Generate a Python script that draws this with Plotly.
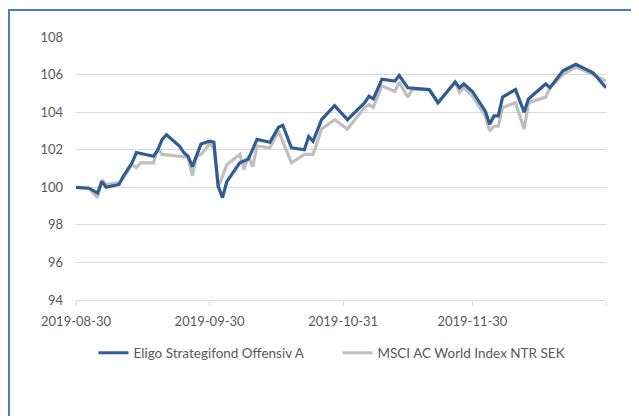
import plotly.graph_objects as go

eligo_dates = ["2019-08-30","2019-09-02","2019-09-04","2019-09-05","2019-09-06","2019-09-09","2019-09-10",
               "2019-09-12","2019-09-13","2019-09-17","2019-09-18","2019-09-19","2019-09-20","2019-09-23",
               "2019-09-24","2019-09-25","2019-09-26","2019-09-27","2019-09-28","2019-09-30","2019-10-01",
               "2019-10-02","2019-10-03","2019-10-04","2019-10-07","2019-10-09","2019-10-11","2019-10-14",
               "2019-10-16","2019-10-17","2019-10-19","2019-10-22","2019-10-23","2019-10-24","2019-10-26",
               "2019-10-29","2019-11-01","2019-11-05","2019-11-06","2019-11-07","2019-11-09","2019-11-12",
               "2019-11-13","2019-11-15","2019-11-20","2019-11-22","2019-11-26","2019-11-27","2019-11-28",
               "2019-11-30","2019-12-03","2019-12-04","2019-12-05","2019-12-06","2019-12-07","2019-12-10",
               "2019-12-12","2019-12-13","2019-12-17","2019-12-18","2019-12-21","2019-12-24","2019-12-28",
               "2019-12-31"]
eligo_values = [100.0, 99.95, 99.7, 100.3, 100.0, 100.15, 100.6,
                101.3, 101.85, 101.65, 102.0, 102.55, 102.8, 102.2,
                101.85, 101.65, 101.1, 101.65, 102.3, 102.45, 102.4,
                100.05, 99.45, 100.3, 101.3, 101.5, 102.55, 102.4,
                103.2, 103.3, 102.1, 102.0, 102.7, 102.45, 103.6,
                104.35, 103.6, 104.5, 104.85, 104.7, 105.75, 105.65,
                105.95, 105.3, 105.2, 104.5, 105.6, 105.3, 105.5,
                105.1, 104.05, 103.35, 103.8, 103.8, 104.8, 105.2,
                104.0, 104.7, 105.5, 105.3, 106.2, 106.55, 106.1,
                105.3]

msci_dates = ["2019-08-30","2019-09-02","2019-09-04","2019-09-05","2019-09-06","2019-09-09","2019-09-10",
              "2019-09-12","2019-09-13","2019-09-14","2019-09-17","2019-09-18","2019-09-19","2019-09-23",
              "2019-09-24","2019-09-25","2019-09-26","2019-09-27","2019-09-28","2019-09-30","2019-10-01",
              "2019-10-02","2019-10-03","2019-10-04","2019-10-07","2019-10-08","2019-10-09","2019-10-10",
              "2019-10-11","2019-10-14","2019-10-16","2019-10-19","2019-10-22","2019-10-24","2019-10-26",
              "2019-10-29","2019-11-01","2019-11-05","2019-11-06","2019-11-07","2019-11-09","2019-11-12",
              "2019-11-13","2019-11-15","2019-11-16","2019-11-20","2019-11-22","2019-11-26","2019-11-27",
              "2019-11-28","2019-11-30","2019-12-03","2019-12-04","2019-12-05","2019-12-06","2019-12-07",
              "2019-12-10","2019-12-12","2019-12-13","2019-12-17","2019-12-18","2019-12-21","2019-12-24",
              "2019-12-28","2019-12-31"]
msci_values = [100.0, 99.95, 99.45, 100.4, 100.15, 100.25, 100.5,
               101.2, 101.05, 101.3, 101.3, 102.1, 101.75, 101.65,
               101.6, 101.6, 100.6, 101.65, 101.75, 102.3, 102.1,
               100.0, 100.6, 101.2, 101.75, 100.95, 101.65, 101.1,
               102.2, 102.1, 103.0, 101.3, 101.75, 101.75, 103.1,
               103.6, 103.1, 104.25, 104.4, 104.25, 105.4, 105.1,
               105.6, 104.8, 105.2, 105.2, 104.5, 105.6, 105.05,
               105.3, 104.85, 103.8, 103.0, 103.25, 103.25, 104.25,
               104.5, 103.1, 104.5, 104.8, 105.3, 106.0, 106.4,
               106.0, 105.65]

x_tickvals = ["2019-08-30", "2019-09-30", "2019-10-31", "2019-11-30", "2019-12-31"]
x_ticktext = ["2019-08-30", "2019-09-30", "2019-10-31", "2019-11-30", ""]
y_tickvals = [94, 96, 98, 100, 102, 104, 106, 108]

FONT = "Lato, Liberation Sans, sans-serif"
TXT = "#595959"
GRID = "#d9d9d9"
BORDER = "#4a7ebb"

fig = go.Figure()
fig.add_trace(go.Scatter(x=msci_dates, y=msci_values, mode="lines",
                         name="MSCI AC World Index NTR SEK", legendrank=2,
                         line=dict(color="#bfbfbf", width=3.2)))
fig.add_trace(go.Scatter(x=eligo_dates, y=eligo_values, mode="lines",
                         name="Eligo Strategifond Offensiv A", legendrank=1,
                         line=dict(color="#2f5d93", width=3.2)))

fig.update_layout(
    width=639, height=416,
    margin=dict(l=68, r=41, t=29, b=124),
    paper_bgcolor="white", plot_bgcolor="white",
    font=dict(family=FONT, size=13, color=TXT),
    showlegend=True,
    legend=dict(orientation="h", x=0.033, xanchor="left", y=-0.2015, yanchor="middle",
                font=dict(size=13.5, color=TXT), bgcolor="rgba(0,0,0,0)",
                entrywidth=199, entrywidthmode="pixels",
                tracegroupgap=0),
    xaxis=dict(type="date", range=["2019-08-30", "2019-12-31"],
               tickmode="array", tickvals=x_tickvals, ticktext=x_ticktext,
               showgrid=False, zeroline=False,
               showline=True, linecolor=GRID, linewidth=1,
               ticks="outside", ticklen=5, tickcolor=GRID, tickwidth=1,
               ticklabelstandoff=4,
               tickfont=dict(size=13, color=TXT)),
    yaxis=dict(range=[94, 108], tickmode="array", tickvals=y_tickvals,
               showgrid=True, gridcolor=GRID, gridwidth=1, zeroline=False,
               showline=False, ticks="", ticklen=0, ticklabelstandoff=12,
               tickfont=dict(size=13, color=TXT)),
    shapes=[
        dict(type="line", xref="paper", yref="paper",
             x0=-0.1264, x1=-0.1264, y0=-0.6, y1=1.1027,
             line=dict(color=BORDER, width=2)),
        dict(type="line", xref="paper", yref="paper",
             x0=-0.1283, x1=1.2, y0=1.1027, y1=1.1027,
             line=dict(color=BORDER, width=2)),
    ],
)

fig.write_html("out.html")
